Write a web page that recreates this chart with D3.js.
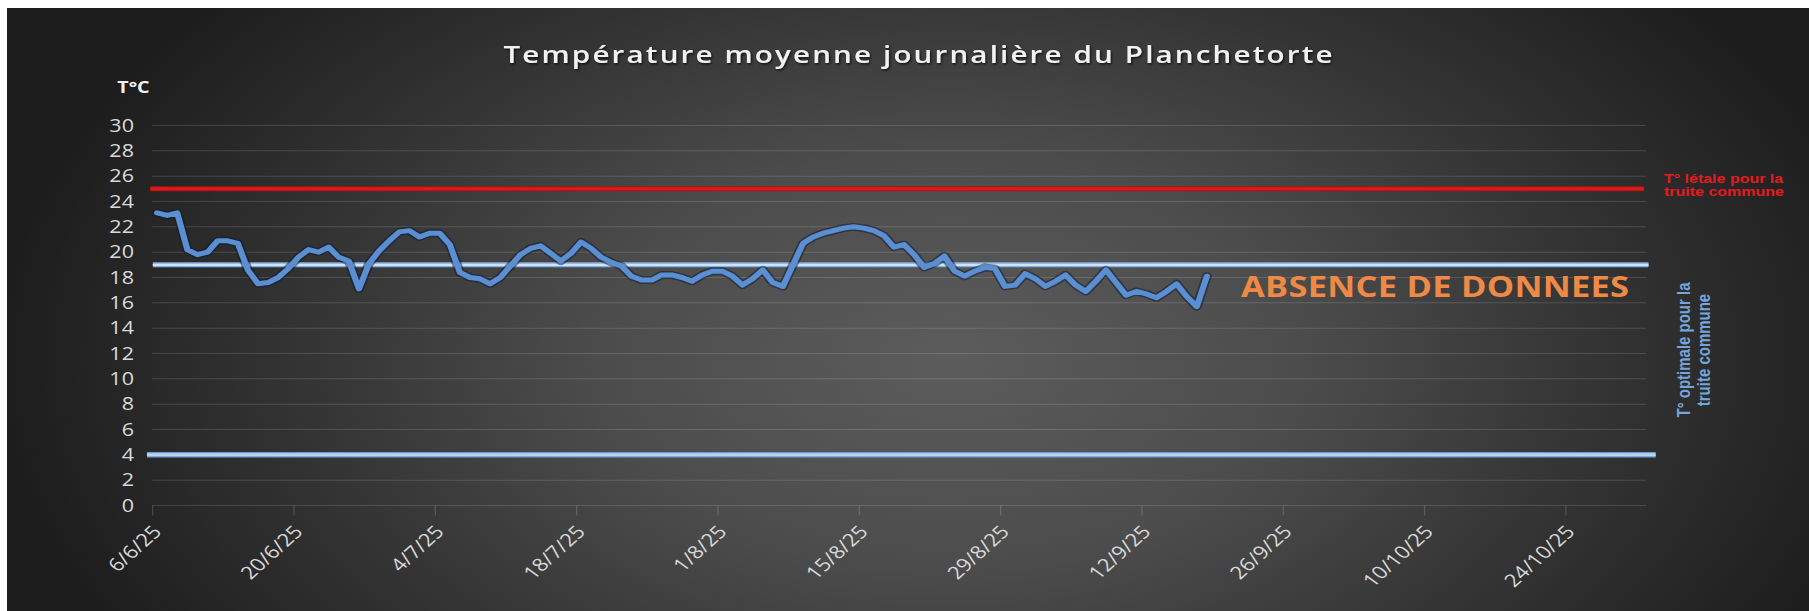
<!DOCTYPE html>
<html>
<head>
<meta charset="utf-8">
<script src="https://cdn.jsdelivr.net/npm/d3@7"></script>
<style>
  html, body { margin: 0; padding: 0; background: #ffffff; }
  svg { display: block; }
</style>
</head>
<body>
<div id="chart"></div>
<script>
// ---------------- DATA ----------------
const titleText = "Température moyenne journalière du Planchetorte";
const yAxisTitle = "T°C";
const startDate = "2025-06-06";           // first daily measurement
const axisStart = "2025-06-06";
const axisEnd = "2025-11-01";
const tickDates = ["2025-06-06","2025-06-20","2025-07-04","2025-07-18","2025-08-01","2025-08-15",
                   "2025-08-29","2025-09-12","2025-09-26","2025-10-10","2025-10-24"];
const yTicks = [0,2,4,6,8,10,12,14,16,18,20,22,24,26,28,30];
// daily mean temperature (°C), one value per day from 6/6/25
const temperatures = [
  23.1,22.9,23.1,20.2,19.8,20.0,20.9,20.9,20.7,18.6,
  17.5,17.6,18.0,18.7,19.6,20.2,20.0,20.4,19.6,19.3,
  17.1,19.1,20.1,20.9,21.6,21.7,21.2,21.5,21.5,20.6,
  18.4,18.0,17.9,17.5,18.0,18.9,19.8,20.3,20.5,19.9,
  19.3,19.9,20.8,20.3,19.6,19.2,18.9,18.1,17.8,17.8,
  18.2,18.2,18.0,17.7,18.2,18.5,18.5,18.1,17.4,17.9,
  18.6,17.6,17.3,19.0,20.7,21.2,21.5,21.7,21.9,22.0,
  21.9,21.7,21.3,20.4,20.6,19.8,18.8,19.1,19.7,18.5,
  18.1,18.5,18.8,18.7,17.3,17.4,18.3,17.9,17.3,17.7,
  18.2,17.4,16.9,17.7,18.6,17.6,16.6,16.9,16.7,16.4,
  16.9,17.5,16.5,15.7,18.1
];
// reference thresholds
const thresholdNames = ["letale", "optimaleHaut", "optimaleBas"];
const thresholdValues = [25, 19, 4];
const thresholdFrom = ["2025-06-05T20:00", "2025-06-06T02:00", "2025-06-05T12:00"];
const thresholdTo   = ["2025-10-31T19:00", "2025-11-01T06:00", "2025-11-01T23:00"];
const lethalLabel = ["T° létale pour la", "truite commune"];
const optimalLabel = ["T° optimale pour la", "truite commune"];
const noDataLabel = "ABSENCE DE DONNEES";

// ---------------- LAYOUT ----------------
const FULL_W = 1809, H = 611;
const S = 1.23;                  // horizontal stretch of the original picture
const W = FULL_W / S;
const u = v => v / S;            // convert full-width pixel to drawing units

const parseDay = d3.timeParse("%Y-%m-%d");
const parseDT = d3.timeParse("%Y-%m-%dT%H:%M");
const fmt = d3.timeFormat("%-d/%-m/%y");

const t0 = parseDay(startDate);
const series = temperatures.map((v, i) => ({ date: d3.timeHour.offset(d3.timeDay.offset(t0, i), 12), value: v }));

const x = d3.scaleTime()
  .domain([parseDay(axisStart), parseDay(axisEnd)])
  .range([u(152), u(1646)]);
const y = d3.scaleLinear().domain([0, 30]).range([505.5, 125.5]);

const svg = d3.select("#chart").append("svg")
  .attr("width", FULL_W).attr("height", H)
  .attr("viewBox", `0 0 ${W} ${H}`)
  .attr("preserveAspectRatio", "none");

const defs = svg.append("defs");
const cx = u(950), cy = 360, rx = u(950), ry = 560;
const grad = defs.append("radialGradient").attr("id", "bg")
  .attr("gradientUnits", "userSpaceOnUse")
  .attr("cx", cx).attr("cy", cy).attr("r", rx)
  .attr("gradientTransform", `translate(${cx},${cy}) scale(1,${ry / rx}) translate(${-cx},${-cy})`);
[[0, "#5c5c5c"], [0.37, "#4c4c4c"], [0.68, "#343434"], [0.89, "#252525"], [1, "#1d1d1d"]]
  .forEach(([o, c]) => grad.append("stop").attr("offset", o).attr("stop-color", c));

const shadow = defs.append("filter").attr("id", "tshadow").attr("x", "-5%").attr("y", "-30%").attr("width", "110%").attr("height", "160%");
shadow.append("feDropShadow").attr("dx", 1).attr("dy", 1.5).attr("stdDeviation", 1).attr("flood-color", "#000").attr("flood-opacity", 0.7);

// background
svg.append("rect").attr("x", u(7)).attr("y", 8).attr("width", W - u(7)).attr("height", H - 8).attr("fill", "url(#bg)");

// gridlines
svg.append("g").selectAll("line").data(yTicks).join("line")
  .attr("x1", x.range()[0]).attr("x2", x.range()[1])
  .attr("y1", d => y(d)).attr("y2", d => y(d))
  .attr("stroke", "rgba(255,255,255,0.14)").attr("stroke-width", 1);

// y axis labels
svg.append("g").selectAll("text").data(yTicks).join("text")
  .attr("x", u(134)).attr("y", d => y(d)).attr("dy", "0.35em")
  .attr("text-anchor", "end")
  .attr("font-family", "'Open Sans', sans-serif").attr("font-size", 17.5)
  .attr("fill", "#d9d9d9")
  .text(d => d);

svg.append("text").attr("x", u(133.5)).attr("y", 93)
  .attr("text-anchor", "middle")
  .attr("font-family", "'Open Sans', sans-serif").attr("font-size", 16).attr("font-weight", 700)
  .attr("fill", "#f2f2f2").text(yAxisTitle);

// x axis
const xAxis = d3.axisBottom(x)
  .tickValues(tickDates.map(parseDay))
  .tickFormat(fmt).tickSize(10).tickSizeOuter(0);
const gx = svg.append("g").attr("transform", `translate(0,${y(0)})`).call(xAxis);
gx.select(".domain").remove();
gx.selectAll(".tick line").attr("stroke", "rgba(255,255,255,0.16)").attr("stroke-width", 1);
gx.selectAll(".tick text")
  .attr("font-family", "'Open Sans', sans-serif").attr("font-size", 18)
  .attr("fill", "#d9d9d9")
  .attr("text-anchor", "end")
  .attr("dy", 0).attr("y", 0)
  .attr("transform", `translate(${u(10)},27) rotate(-48)`);

// threshold lines
const thrStyles = {
  letale: [{ c: "#b01010", w: 5 }, { c: "#d81c1c", w: 3 }],
  optimaleHaut: [{ c: "#84aedf", w: 5 }, { c: "#cfe2f7", w: 2.4 }],
  optimaleBas: [{ c: "#6f9bd0", w: 5.5 }, { c: "#b7d4f3", w: 3 }]
};
thresholdNames.forEach((n, i) => {
  const pts = [
    { date: parseDT(thresholdFrom[i]), value: thresholdValues[i] },
    { date: parseDT(thresholdTo[i]), value: thresholdValues[i] }
  ];
  const ln = d3.line().x(d => x(d.date)).y(d => y(d.value));
  thrStyles[n].forEach(st => {
    svg.append("path").datum(pts).attr("d", ln)
      .attr("fill", "none").attr("stroke", st.c).attr("stroke-width", st.w)
      .attr("stroke-linecap", "butt");
  });
});

// temperature series
const line = d3.line().x(d => x(d.date)).y(d => y(d.value));
svg.append("path").datum(series).attr("d", line)
  .attr("fill", "none").attr("stroke", "rgba(15,25,45,0.5)").attr("stroke-width", 8)
  .attr("stroke-linejoin", "round").attr("stroke-linecap", "round");
svg.append("path").datum(series).attr("d", line)
  .attr("fill", "none").attr("stroke", "#5a8fd3").attr("stroke-width", 5)
  .attr("stroke-linejoin", "round").attr("stroke-linecap", "round");

// title
svg.append("text").attr("x", u(918)).attr("y", 63)
  .attr("text-anchor", "middle")
  .attr("font-family", "'Open Sans', sans-serif").attr("font-size", 24).attr("font-weight", 600)
  .attr("fill", "#f2f2f2").attr("filter", "url(#tshadow)")
  .attr("textLength", u(829)).attr("lengthAdjust", "spacing")
  .text(titleText);

// no-data annotation
svg.append("text").attr("x", u(1241)).attr("y", 297)
  .attr("font-family", "'Open Sans', sans-serif").attr("font-size", 28).attr("font-weight", 700)
  .attr("fill", "#ef8946")
  .attr("textLength", u(388)).attr("lengthAdjust", "spacing")
  .text(noDataLabel);

// lethal label
svg.append("g").selectAll("text").data(lethalLabel).join("text")
  .attr("x", u(1664)).attr("y", (d, i) => 183 + i * 13.5)
  .attr("font-family", "'Liberation Sans', Arial, sans-serif").attr("font-size", 13).attr("font-weight", 700)
  .attr("fill", "#e41b1f")
  .text(d => d);

// optimal label (vertical)
svg.append("g").selectAll("text").data(optimalLabel).join("text")
  .attr("transform", (d, i) => `translate(${u(1690) + i * 16.3},350) rotate(-90)`)
  .attr("text-anchor", "middle")
  .attr("font-family", "'Liberation Sans', Arial, sans-serif").attr("font-size", 15).attr("font-weight", 700)
  .attr("fill", "#76a4dc")
  .text(d => d);
</script>
</body>
</html>
